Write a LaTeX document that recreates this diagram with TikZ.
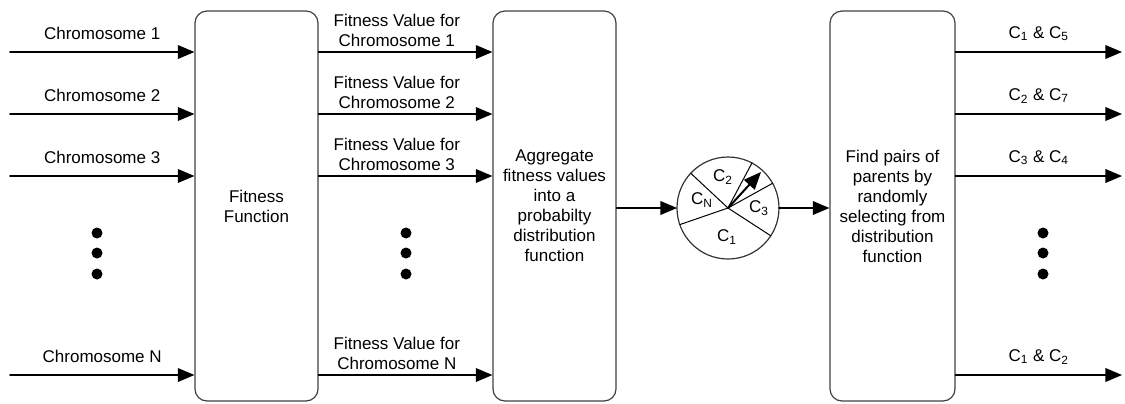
\documentclass[tikz,border=0pt]{standalone}
\usepackage{fontspec}
\setmainfont{Liberation Sans}
\usetikzlibrary{arrows}

\begin{document}
\begin{tikzpicture}[line cap=round,line join=round,>=triangle 45,x=0.5pt,y=-0.5pt]
\tikzset{blockbox/.style={draw=black!75, line width=0.6pt, rounded corners=6pt, minimum width=61.5pt, minimum height=195pt, align=center, font=\fontsize{8.5}{10}\selectfont},
  flow/.style={->, line width=0.9pt},
  lbl/.style={font=\fontsize{8.5}{10}\selectfont, align=center, inner sep=1pt},
  bigdot/.style={circle, fill=black, inner sep=0pt, minimum size=5.5pt}}
\useasboundingbox (0,0) rectangle (1125,403);
% the three blocks
\node[blockbox] (fit) at (256.5,206) {Fitness\\Function};
\node[blockbox] (agg) at (554.5,206) {Aggregate\\fitness values\\into a\\probabilty\\distribution\\function};
\node[blockbox, minimum width=62.5pt] (pick) at (892.5,206) {Find pairs of\\parents by\\randomly\\selecting from\\distribution\\function};
% roulette wheel
\node[circle, draw=black!80, line width=0.6pt, minimum size=51pt, inner sep=0pt, outer sep=0pt] (wheel) at (728,208) {};
\foreach \a in {29,62,137,199,327}
  \draw[line width=0.5pt] (wheel.center) -- (wheel.\a);
\coordinate (pointer) at ([shift={(33,-36)}]wheel.center);
\draw[->, line width=1pt] (wheel.center) -- (pointer);
\node[lbl] (c2) at ([shift={(-5,-31)}]wheel.center) {C\textsubscript{2}};
\node[lbl] (cn) at ([shift={(-26,-8)}]wheel.center) {C\textsubscript{N}};
\node[lbl] (c3) at ([shift={(31,0)}]wheel.center) {C\textsubscript{3}};
\node[lbl] (c1) at ([shift={(-1,29)}]wheel.center) {C\textsubscript{1}};
% inputs and fitness values
\foreach \i/\y/\t in {1/52/1, 2/114/2, 3/176/3, 4/375/N} {
  \coordinate (in\i) at (10,\y);
  \draw[flow] (in\i) -- (in\i -| fit.west) node[lbl, midway, above=4.5pt] {Chromosome \t};
  \draw[flow] (in\i -| fit.east) -- (in\i -| agg.west) node[lbl, pos=0.45, above=1pt] {Fitness Value for\\Chromosome \t};
}
% parent pairs
\foreach \i/\y/\a/\b in {1/52/1/5, 2/114/2/7, 3/176/3/4, 4/375/1/2} {
  \coordinate (out\i) at (1122,\y);
  \draw[flow] (out\i -| pick.east) -- (out\i) node[lbl, midway, above=4pt] {C\textsubscript{\a} \& C\textsubscript{\b}};
}
\draw[flow] (wheel -| agg.east) -- (wheel.west);
\draw[flow] (wheel.east) -- (wheel -| pick.west);
% ellipsis dots
\foreach \x/\n in {97/l, 406/m, 1043/r}
  \foreach \y/\k in {233/1, 253/2, 274/3}
    \node[bigdot] (dot\n\k) at (\x,\y) {};
\end{tikzpicture}
\end{document}
